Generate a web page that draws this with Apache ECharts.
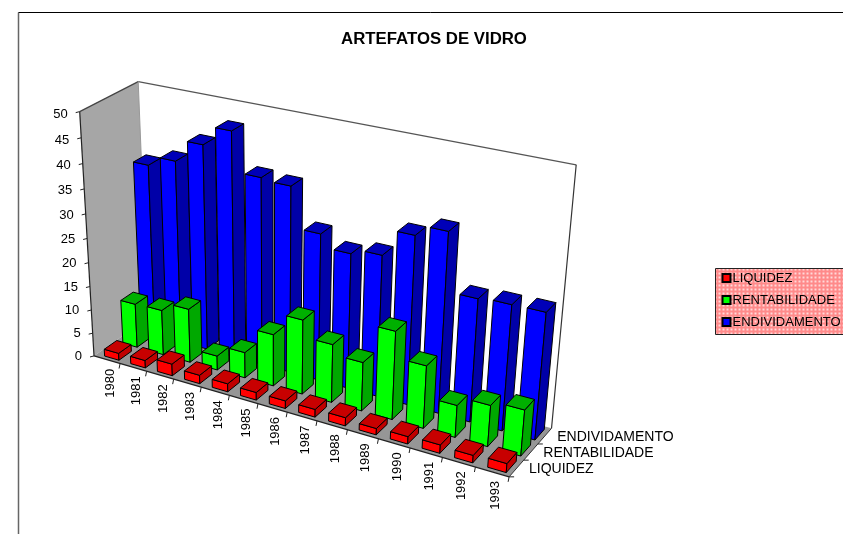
<!DOCTYPE html>
<html><head><meta charset="utf-8">
<style>html,body{margin:0;padding:0;background:#fff;overflow:hidden}#c{width:843px;height:534px}</style>
<script src="https://cdn.jsdelivr.net/npm/echarts@6/dist/echarts.min.js"></script>
</head><body><div id="c"></div>
<script>
const years = ['1980','1981','1982','1983','1984','1985','1986','1987','1988','1989','1990','1991','1992','1993'];
const rows = ['LIQUIDEZ','RENTABILIDADE','ENDIVIDAMENTO'];
const liquidez = [1.5,1.6,2.5,1.8,1.7,1.6,1.6,1.6,1.7,1.3,1.5,1.7,1.5,1.8];
const rentabilidade = [9.4,9.6,11.4,3.0,5.4,10.8,15.4,12,10,17.9,12.7,6.5,8.3,9.2];
const endividamento = [36,38,42.4,46.2,38.4,38,30,27.5,28.6,33.8,35.9,24.6,25,25.1];
const valueTicks = [0,5,10,15,20,25,30,35,40,45,50];
const FONT = '"Liberation Sans", Arial, sans-serif';

// Camera calibration of the 3D box: [u, v, w] -> [px, py]
const calib = [
 [0,0,0, 95,355],[1,0,0, 508,477],[0,0,1, 145,318],[1,0,1, 553,427],
 [0,1,0, 78,110],[0,1,1, 140,83],[1,1,1, 576,165],
 [1/14,0,0, 122,365],[13/14,0,0, 475,468]
];
function solve(A,b){const n=b.length;for(let i=0;i<n;i++){let m=i;for(let r=i+1;r<n;r++)if(Math.abs(A[r][i])>Math.abs(A[m][i]))m=r;[A[i],A[m]]=[A[m],A[i]];[b[i],b[m]]=[b[m],b[i]];for(let r=i+1;r<n;r++){const f=A[r][i]/A[i][i];for(let c=i;c<n;c++)A[r][c]-=f*A[i][c];b[r]-=f*b[i];}}
 const x=Array(n).fill(0);for(let i=n-1;i>=0;i--){let s=b[i];for(let c=i+1;c<n;c++)s-=A[i][c]*x[c];x[i]=s/A[i][i];}return x;}
const P=(function(){const rowsM=[],rhs=[];calib.forEach(([u,v,w,x,y])=>{x/=100;y/=100;
  rowsM.push([1,u,v,w,0,0,0,0,-x*u,-x*v,-x*w]);rhs.push(x);
  rowsM.push([0,0,0,0,1,u,v,w,-y*u,-y*v,-y*w]);rhs.push(y);});
 const n=11,A=[],b=[];for(let i=0;i<n;i++){A.push(Array(n).fill(0));b.push(0);for(let k=0;k<rowsM.length;k++){b[i]+=rowsM[k][i]*rhs[k];for(let j=0;j<n;j++)A[i][j]+=rowsM[k][i]*rowsM[k][j];}}
 return solve(A,b);})();
function proj(u,v,w){const d=1+P[8]*u+P[9]*v+P[10]*w;
 return [100*(P[0]+P[1]*u+P[2]*v+P[3]*w)/d,100*(P[4]+P[5]*u+P[6]*v+P[7]*w)/d];}

const BAR_W=0.55, BAR_D=0.68, U_SHIFT=0.005;
function poly(pts,fill,stroke,lw){return {type:'polygon',shape:{points:pts},style:{fill:fill,stroke:stroke===undefined?'#000':stroke,lineWidth:lw===undefined?1:lw}};}
function line(a,b,color,lw){return {type:'line',shape:{x1:a[0],y1:a[1],x2:b[0],y2:b[1]},style:{stroke:color,lineWidth:lw||1}};}
function txt(x,y,s,size,align,vAlign,rot){return {type:'text',x:x,y:y,rotation:rot||0,style:{text:s,font:size+'px '+FONT,fill:'#000',align:align,verticalAlign:vAlign}};}

function barSeries(name,values,rowIdx,cols,z){
 return {type:'custom',name:name,coordinateSystem:'cartesian2d',z:z,silent:true,
  itemStyle:{color:cols[0],borderColor:'#000',borderWidth:1},
  encode:{x:0,y:1},
  data:values.map((v,i)=>[i,v]),
  renderItem:function(params,api){
   const r=params.coordSys,c=api.coord([api.value(0),api.value(1)]),band=api.size([1,0])[0];
   const uc=(c[0]-r.x)/r.width+U_SHIFT,v=(r.y+r.height-c[1])/r.height;
   const hu=BAR_W*band/r.width/2,hw=BAR_D/3/2,wc=(rowIdx+.5)/3;
   const u0=uc-hu,u1=uc+hu,w0=wc-hw,w1=wc+hw;
   const fb0=proj(u0,0,w0),fb1=proj(u1,0,w0),ft0=proj(u0,v,w0),ft1=proj(u1,v,w0),
         bb1=proj(u1,0,w1),bt0=proj(u0,v,w1),bt1=proj(u1,v,w1);
   return {type:'group',children:[
    poly([fb0,fb1,ft1,ft0],cols[0]),
    poly([fb1,bb1,bt1,ft1],cols[1]),
    poly([ft0,ft1,bt1,bt0],cols[2])
   ]};
  }};
}

const frame={type:'custom',coordinateSystem:'cartesian2d',z:1,silent:true,encode:{x:0,y:1},data:[[0,0]],
 tooltip:{show:false},
 renderItem:function(){
  const A=proj(0,0,0),B=proj(1,0,0),C=proj(0,0,1),D=proj(1,0,1),E=proj(0,1,0),G=proj(0,1,1),H=proj(1,1,1);
  const ch=[poly([C,G,H,D],'#fff','none'),poly([A,C,G,E],'#a6a6a6','none'),poly([A,B,D,C],'#969696','none'),
   line(A,E,'#222',1.2),line(E,G,'#444',1.2),line(G,H,'#555',1.2),line(H,D,'#333',1.2),line(G,C,'#999'),line(A,B,'#222',1.2),line(B,D,'#333')];
  return {type:'group',children:ch};
 }};

const axisText={type:'custom',coordinateSystem:'cartesian2d',z:20,silent:true,encode:{x:0,y:1},data:[[0,0]],
 tooltip:{show:false},
 renderItem:function(params,api){
  const r=params.coordSys,ch=[];
  valueTicks.forEach(t=>{const y=api.coord([0,t])[1],v=(r.y+r.height-y)/r.height,p=proj(0,v,0);
   ch.push(line(p,[p[0]-4,p[1]+1],'#222'));
   ch.push(txt(p[0]-12,p[1]+2.5*v,String(t),13,'right','middle'));});
  years.forEach((s,i)=>{const x=api.coord([i,0])[0],b=api.size([1,0])[0],u=(x-r.x)/r.width,p=proj(u,0,0);
   const q=proj(u+b/r.width/2,0,0);
   ch.push(line(q,[q[0]-1,q[1]+5],'#222'));
   ch.push(txt(p[0]+3,p[1]+9,s,13,'right','middle',Math.PI/2));});
  rows.forEach((s,k)=>{const p=proj(1,0,(k+.5)/3);
   const t=proj(1,0,k/3);
   ch.push(line(t,[t[0]+5,t[1]],'#222'));
   ch.push(txt(p[0]+12.5,p[1]+1,s,14,'left','middle'));});
  return {type:'group',children:ch};
 }};

function dots(){const c=document.createElement('canvas');c.width=4;c.height=4;const g=c.getContext('2d');
 g.fillStyle='#ff8a8a';g.fillRect(0,0,4,4);g.fillStyle='#ffd8d8';
 g.fillRect(1,1,2,2);return c;}

const chart=echarts.init(document.getElementById('c'),null,{renderer:'canvas'});
chart.setOption({
 animation:false,backgroundColor:'#fff',
 title:{text:'ARTEFATOS DE VIDRO',left:429,top:25,textAlign:'center',textStyle:{fontFamily:FONT,fontSize:16.8,fontWeight:'bold',color:'#000',lineHeight:18}},
 grid:{left:100,right:100,top:100,bottom:100,show:false},
 xAxis:{type:'category',data:years,show:false},
 yAxis:{type:'value',min:0,max:50,interval:5,show:false},
 legend:{orient:'vertical',left:715.5,top:268.5,data:rows,itemWidth:8,itemHeight:8,itemGap:9,icon:'rect',
  padding:[3,12,6,6],backgroundColor:{image:dots(),repeat:'repeat'},borderColor:'#222',borderWidth:1,
  selectedMode:false,textStyle:{fontFamily:FONT,fontSize:13,color:'#000',padding:[0,0,0,-3]}},
 graphic:[{type:'line',shape:{x1:18.5,y1:534,x2:18.5,y2:12.5},style:{stroke:'#666',lineWidth:1.5},silent:true},
          {type:'line',shape:{x1:18.5,y1:12.5,x2:843,y2:12.5},style:{stroke:'#000',lineWidth:1},silent:true}],
 series:[frame,
  barSeries('ENDIVIDAMENTO',endividamento,2,['#0000ff','#0000a8','#0000b8'],5),
  barSeries('RENTABILIDADE',rentabilidade,1,['#00ff00','#00a800','#00b000'],6),
  barSeries('LIQUIDEZ',liquidez,0,['#ff0000','#c00000','#c80000'],7),
  axisText]
});
</script></body></html>
